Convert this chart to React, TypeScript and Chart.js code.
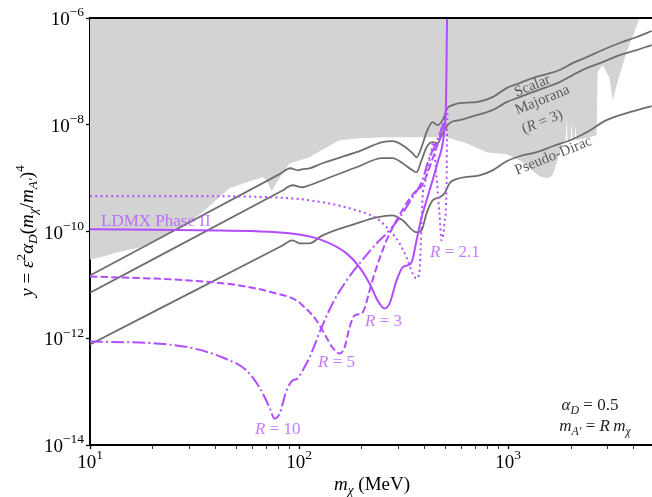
import React, { useEffect, useRef } from "react";
import { Chart, registerables } from "chart.js";

Chart.register(...registerables);

const SERIF = '"Liberation Serif", "DejaVu Serif", serif';

// ---- Excluded region (lower edge of grey band, filled to top) ----
const excludedMass = [10, 11.1, 13.4, 17.25, 20.8, 24.8, 29.9, 34.5, 46.5, 56.1, 66.9, 69.9, 73.9, 80.7, 90, 97.3, 112.2, 125.3, 156.2, 194.8, 262.2, 507.8, 632.9, 789.1, 983.5, 1135, 1267, 1415, 1545, 1633, 1725, 1823, 1884, 1905, 1926, 1991, 2013, 2035, 2081, 2104, 2127, 2455, 2651, 2681, 2832, 3059, 3162, 3341, 3690, 4258];
const excludedY = [3.0e-11, 3.27e-11, 4.06e-11, 5.04e-11, 6.83e-11, 9.64e-11, 1.49e-10, 2.29e-10, 6.46e-10, 8.37e-10, 1.04e-9, 9.12e-10, 5.67e-10, 9.94e-10, 1.9e-9, 2.07e-9, 2.46e-9, 3.19e-9, 5.14e-9, 5.6e-9, 5.85e-9, 5.85e-9, 4.51e-9, 3.06e-9, 2.81e-9, 2.16e-9, 1.53e-9, 1.08e-9, 9.94e-10, 1.13e-9, 2.16e-9, 4.71e-9, 5.14e-9, 1.33e-8, 5.14e-9, 5.14e-9, 1.12e-8, 5.14e-9, 5.14e-9, 9.82e-9, 5.14e-9, 5.85e-9, 6.37e-9, 9.7e-8, 1.31e-7, 7.48e-8, 2.89e-8, 6.3e-8, 2.3e-7, 1e-6];

// ---- Thermal targets (grey lines) ----
const scalarMass = [10, 80.7, 91, 98.4, 104, 112.2, 129.5, 188.4, 250.9, 280.2, 312.7, 349.2, 364.9, 385.5, 407.4, 435.3, 460, 485.9, 513.4, 542.5, 586.1, 706.6, 843, 983.5, 1135, 1310, 1529, 1764, 2035, 2375, 2832, 3416, 4120, 4861];
const scalarY = [1.5e-11, 1.19e-9, 1.53e-9, 1.4e-9, 1.47e-9, 1.53e-9, 1.9e-9, 3.06e-9, 4.71e-9, 4.92e-9, 4.14e-9, 2.93e-9, 2.46e-9, 3.8e-9, 7.26e-9, 1.12e-8, 9.82e-9, 1.22e-8, 2.05e-8, 2.33e-8, 2.54e-8, 2.65e-8, 3.29e-8, 4.86e-8, 6.03e-8, 7.48e-8, 8.89e-8, 1.06e-7, 1.43e-7, 1.85e-7, 2.51e-7, 3.4e-7, 4.4e-7, 5.7e-7];

const majoranaMass = [10, 82.5, 93.1, 104, 112.2, 129.5, 188.4, 250.9, 280.2, 312.7, 349.2, 364.9, 385.5, 407.4, 435.3, 460, 485.9, 524.9, 586.1, 706.6, 843, 983.5, 1135, 1310, 1529, 1764, 2035, 2375, 2832, 3416, 4120, 4861];
const majoranaY = [7.12e-12, 5.72e-10, 7.35e-10, 6.74e-10, 7.35e-10, 9.12e-10, 1.6e-9, 2.36e-9, 2.36e-9, 1.9e-9, 1.4e-9, 1.29e-9, 2.16e-9, 3.8e-9, 4.71e-9, 4.51e-9, 6.95e-9, 1.07e-8, 1.22e-8, 1.51e-8, 1.88e-8, 2.65e-8, 3.29e-8, 4.09e-8, 5.07e-8, 6.3e-8, 8.52e-8, 1.15e-7, 1.49e-7, 2.02e-7, 2.51e-7, 3.11e-7];

const pseudoDiracMass = [10, 82.5, 93.1, 100.6, 112.2, 129.5, 188.4, 234.9, 280.2, 312.7, 364.9, 385.5, 407.4, 435.3, 470.1, 496.7, 524.9, 586.1, 730.3, 843, 983.5, 1135, 1369, 1633, 2035, 2375, 2960, 3690, 4861];
const pseudoDiracY = [7.63e-13, 5.36e-11, 6.83e-11, 6.0e-11, 6.0e-11, 8.47e-11, 1.42e-10, 1.84e-10, 2.01e-10, 1.62e-10, 9.64e-11, 1.05e-10, 2.19e-10, 3.84e-10, 4.38e-10, 5.2e-10, 8.01e-10, 9.94e-10, 1.13e-9, 1.4e-9, 2.07e-9, 2.57e-9, 3.06e-9, 3.96e-9, 5.36e-9, 7.26e-9, 1.22e-8, 1.65e-8, 2.23e-8];

// ---- LDMX Phase II reach (purple) ----
const r21Mass = [10, 33.4, 90, 129.5, 188.4, 234.9, 271, 302.6, 326.8, 349.2, 364.9, 377.2, 385.5, 389.8, 398.6, 421.1, 440.1, 450, 470.1, 480.6, 496.7, 507.8, 510.6, 513.4];
const r21Y = [4.57e-10, 4.57e-10, 4.19e-10, 3.53e-10, 2.49e-10, 1.77e-10, 1.05e-10, 6.0e-11, 3.27e-11, 1.64e-11, 1.32e-11, 1.87e-11, 1.42e-10, 4.38e-10, 7.35e-10, 2.16e-9, 4.71e-9, 1.74e-9, 2.01e-10, 6.83e-11, 1.49e-10, 7.35e-10, 7.91e-9, 1.88e-8];

const r3Mass = [10, 33.4, 90, 129.5, 168.8, 194.8, 217.5, 237.5, 256.5, 271, 292.8, 312.7, 330.4, 345.4, 364.9, 385.5, 407.4, 435.3, 460, 496.7, 505, 507.8, 510.6];
const r3Y = [1.1e-10, 1.05e-10, 9.24e-11, 6.83e-11, 3.89e-11, 2.13e-11, 1.06e-11, 5.11e-12, 3.61e-12, 4.49e-12, 1.21e-11, 2.13e-11, 2.32e-11, 2.64e-11, 6.83e-11, 1.84e-10, 3.84e-10, 9.12e-10, 1.98e-9, 8.63e-9, 2.89e-8, 1.63e-7, 1e-6];

const r5Mass = [10, 29.9, 51.9, 74.7, 97.3, 104, 121.3, 135.4, 144.6, 156.2, 165.1, 174.4, 184.3, 199.1, 205.8, 217.5, 234.9, 262.2, 292.8, 326.8, 364.9, 385.5, 421.1, 455, 480.6, 502.3];
const r5Y = [1.44e-11, 1.21e-11, 9.76e-12, 7.22e-12, 5.11e-12, 4.12e-12, 2.15e-12, 1.03e-12, 6.7e-13, 5.17e-13, 6.7e-13, 1.59e-12, 2.67e-12, 2.91e-12, 3.61e-12, 7.87e-12, 2.13e-11, 6.83e-11, 1.62e-10, 3.38e-10, 5.92e-10, 7.04e-10, 1.6e-9, 3.8e-9, 7.26e-9, 1.51e-8];

const r10Mass = [10, 20.8, 29.9, 43.1, 56.1, 64.7, 72.3, 76.3, 80.7, 87.1, 93.1, 98.4, 104, 112.2, 128.2, 144.6, 168.8, 194.8, 234.9, 271, 312.7, 349.2, 385.5, 421.1, 455, 496.7];
const r10Y = [8.69e-13, 7.96e-13, 6.7e-13, 4.35e-13, 2.48e-13, 1.19e-13, 5.01e-14, 3.12e-14, 3.87e-14, 1.05e-13, 1.61e-13, 1.76e-13, 2.48e-13, 4.35e-13, 1.59e-12, 4.49e-12, 1.21e-11, 2.53e-11, 6.0e-11, 1.05e-10, 2.19e-10, 4.38e-10, 8.37e-10, 2.46e-9, 4.71e-9, 1.22e-8];

// ---- Axes ----
const xMin = 10;
const xMax = 4880;
const yMin = 1e-14;
const yMax = 1e-6;
const xMajorTicks = [10, 100, 1000];
const xMajorExps = ["1", "2", "3"];
const xMinorTicks = [20, 30, 40, 50, 60, 70, 80, 90, 200, 300, 400, 500, 600, 700, 800, 900, 2000, 3000, 4000];
const yTicks = [1e-14, 1e-12, 1e-10, 1e-8, 1e-6];
const yTickExps = ["\u221214", "\u221212", "\u221210", "\u22128", "\u22126"];

const PURPLE = "#b14dff";
const PURPLE_TEXT = "rgba(178,77,255,0.75)";
const GREY_LINE = "#6e6e6e";
const GREY_TEXT = "#5a5a5a";
const FILL = "#d3d3d3";

type Seg = [string, boolean, number, number];

function segFont(size: number, italic: boolean, scale: number) {
  return `${italic ? "italic " : ""}${size * scale}px ${SERIF}`;
}

function drawRich(
  ctx: CanvasRenderingContext2D,
  segs: Seg[],
  x: number,
  y: number,
  size: number,
  color: string,
  align: "left" | "center" | "right",
  angle = 0,
  baseShift = 0
) {
  ctx.save();
  ctx.translate(x, y);
  if (angle) ctx.rotate(angle);
  ctx.fillStyle = color;
  ctx.textAlign = "left";
  ctx.textBaseline = "alphabetic";
  let w = 0;
  const widths = segs.map(([t, it, sc]) => {
    ctx.font = segFont(size, it, sc);
    const m = ctx.measureText(t).width;
    w += m;
    return m;
  });
  let cx = align === "left" ? 0 : align === "center" ? -w / 2 : -w;
  segs.forEach(([t, it, sc, dy], i) => {
    ctx.font = segFont(size, it, sc);
    ctx.fillText(t, cx, baseShift + dy * size);
    cx += widths[i];
  });
  ctx.restore();
}

const pts = (xs: number[], ys: number[]) => xs.map((x, i) => ({ x, y: ys[i] }));

const decor = {
  id: "decor",
  afterDraw(chart: any) {
    const ctx: CanvasRenderingContext2D = chart.ctx;
    const { left, right, top } = chart.chartArea;
    const xs = chart.scales.x;
    const ys = chart.scales.y;

    // top spine
    ctx.save();
    ctx.strokeStyle = "#000";
    ctx.lineWidth = 2;
    ctx.beginPath();
    ctx.moveTo(left - 1, top);
    ctx.lineTo(right, top);
    ctx.stroke();
    ctx.restore();

    // tick labels
    xMajorTicks.forEach((v, i) => {
      drawRich(ctx, [["10", false, 1, 0], [xMajorExps[i], false, 0.71, -0.5]], xs.getPixelForValue(v), 468, 19, "#000", "center");
    });
    yTicks.forEach((v, i) => {
      drawRich(ctx, [["10", false, 1, 0], [yTickExps[i], false, 0.71, -0.45]], 84, ys.getPixelForValue(v) + 7, 19, "#000", "right");
    });

    // axis titles
    drawRich(
      ctx,
      [
        ["y", true, 1, 0],
        [" = ", false, 1, 0],
        ["\u03b5", true, 1, 0],
        ["2", false, 0.7, -0.42],
        ["\u03b1", true, 1, 0],
        ["D", true, 0.7, 0.22],
        ["(", false, 1, 0],
        ["m", true, 1, 0],
        ["\u03c7", true, 0.7, 0.22],
        ["/", false, 1, 0],
        ["m", true, 1, 0],
        ["A\u2032", true, 0.7, 0.22],
        [")", false, 1, 0],
        ["4", false, 0.7, -0.45],
      ],
      27,
      231,
      19,
      "#000",
      "center",
      -Math.PI / 2,
      6
    );
    drawRich(ctx, [["m", true, 1, 0], ["\u03c7", true, 0.7, 0.22], [" (MeV)", false, 1, 0]], 372, 490, 19, "#000", "center");

    // purple annotations
    drawRich(ctx, [["LDMX Phase II", false, 1, 0]], 101, 226, 17, PURPLE_TEXT, "left");
    drawRich(ctx, [["R", true, 1, 0], [" = 2.1", false, 1, 0]], 430, 257, 17, PURPLE_TEXT, "left");
    drawRich(ctx, [["R", true, 1, 0], [" = 3", false, 1, 0]], 365, 326, 17, PURPLE_TEXT, "left");
    drawRich(ctx, [["R", true, 1, 0], [" = 5", false, 1, 0]], 318, 367, 17, PURPLE_TEXT, "left");
    drawRich(ctx, [["R", true, 1, 0], [" = 10", false, 1, 0]], 255, 434, 17, PURPLE_TEXT, "left");

    // grey annotations
    const ang = (-22 * Math.PI) / 180;
    drawRich(ctx, [["Scalar", false, 1, 0]], 532, 85, 15, GREY_TEXT, "center", ang, 5);
    drawRich(ctx, [["Majorana", false, 1, 0]], 542, 99, 15, GREY_TEXT, "center", ang, 5);
    drawRich(ctx, [["(", false, 1, 0], ["R", true, 1, 0], [" = 3)", false, 1, 0]], 542, 121, 15, GREY_TEXT, "center", ang, 5);
    drawRich(ctx, [["Pseudo-Dirac", false, 1, 0]], 553, 155, 15, GREY_TEXT, "center", ang, 5);

    // parameters
    drawRich(ctx, [["\u03b1", true, 1, 0], ["D", true, 0.7, 0.22], [" = 0.5", false, 1, 0]], 590, 410, 17, "#222", "center");
    drawRich(
      ctx,
      [["m", true, 1, 0], ["A\u2032", true, 0.7, 0.22], [" = ", false, 1, 0], ["R", true, 1, 0], ["\u2009m", true, 1, 0], ["\u03c7", true, 0.7, 0.22]],
      595,
      431,
      17,
      "#222",
      "center"
    );
  },
};

function lineSet(xs: number[], ys: number[], color: string, width: number, dash: number[], order: number) {
  return {
    data: pts(xs, ys),
    borderColor: color,
    borderWidth: width,
    borderDash: dash,
    borderJoinStyle: "round" as const,
    pointRadius: 0,
    fill: false,
    cubicInterpolationMode: "monotone" as const,
    order,
  };
}

export default function App() {
  const ref = useRef<HTMLCanvasElement | null>(null);

  useEffect(() => {
    document.body.style.margin = "0";
    const canvas = ref.current;
    if (!canvas) return;

    const chart = new Chart(canvas, {
      type: "line",
      data: {
        datasets: [
          {
            data: pts(excludedMass, excludedY),
            borderColor: "rgba(0,0,0,0)",
            borderWidth: 1,
            backgroundColor: FILL,
            fill: "end",
            pointRadius: 0,
            tension: 0,
            order: 10,
          } as any,
          lineSet(scalarMass, scalarY, GREY_LINE, 1.8, [], 5),
          lineSet(majoranaMass, majoranaY, GREY_LINE, 1.8, [], 5),
          lineSet(pseudoDiracMass, pseudoDiracY, GREY_LINE, 1.8, [], 5),
          lineSet(r21Mass, r21Y, PURPLE, 2, [2, 3.3], 1),
          lineSet(r3Mass, r3Y, PURPLE, 2, [], 1),
          lineSet(r5Mass, r5Y, PURPLE, 2, [7.4, 3.2], 1),
          lineSet(r10Mass, r10Y, PURPLE, 2, [12.8, 3.2, 2, 3.2], 1),
        ],
      },
      options: {
        animation: false,
        responsive: false,
        devicePixelRatio: 1,
        layout: { padding: { top: 18, left: 0, right: 0, bottom: 0 } },
        plugins: { legend: { display: false }, tooltip: { enabled: false } },
        scales: {
          x: {
            type: "logarithmic",
            position: "bottom",
            min: xMin,
            max: xMax,
            afterBuildTicks: (s: any) => {
              s.ticks = [...xMajorTicks, ...xMinorTicks]
                .sort((a, b) => a - b)
                .map((v) => ({ value: v, major: xMajorTicks.includes(v) }));
            },
            afterFit: (s: any) => {
              s.height = 52;
            },
            ticks: { display: false },
            grid: {
              display: true,
              drawOnChartArea: false,
              drawTicks: true,
              tickLength: 4,
              tickColor: "#000",
              tickWidth: (c: any) => (c.tick && c.tick.major ? 1.3 : 0.8),
            },
            border: { display: true, color: "#000", width: 2 },
          },
          y: {
            type: "logarithmic",
            position: "left",
            min: yMin,
            max: yMax,
            afterBuildTicks: (s: any) => {
              s.ticks = yTicks.map((v) => ({ value: v, major: true }));
            },
            afterFit: (s: any) => {
              s.width = 90;
            },
            ticks: { display: false },
            grid: {
              display: true,
              drawOnChartArea: false,
              drawTicks: true,
              tickLength: 4,
              tickColor: "#000",
              tickWidth: 1.3,
            },
            border: { display: true, color: "#000", width: 2 },
          },
        },
      } as any,
      plugins: [decor],
    });

    return () => chart.destroy();
  }, []);

  return <canvas ref={ref} width={652} height={497} style={{ display: "block", width: 652, height: 497 }} />;
}
